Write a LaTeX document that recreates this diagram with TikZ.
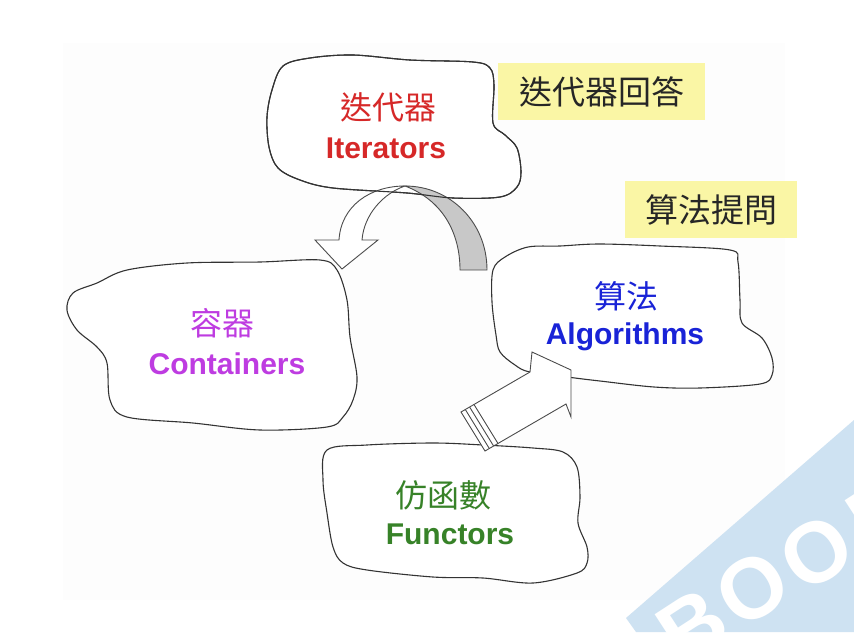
\documentclass[tikz,border=0pt]{standalone}
\usepackage{fontspec}
\setmainfont{Liberation Sans}
\newfontfamily\cjk{Noto Sans CJK TC}
\definecolor{itred}{RGB}{214,40,40}
\definecolor{copurple}{RGB}{190,60,225}
\definecolor{alblue}{RGB}{25,35,215}
\definecolor{fugreen}{RGB}{55,130,40}
\definecolor{qyellow}{RGB}{250,246,165}
\definecolor{wmblue}{RGB}{206,226,242}
\definecolor{arrowgray}{RGB}{200,200,200}
\definecolor{bgpanel}{RGB}{253,253,253}
\begin{document}
\begin{tikzpicture}[x=1pt,y=-1pt,
  cloud/.style={draw=black!80,line width=1.1pt,fill=white,line join=round},
  cloudline/.style={draw=black!80,line width=1.1pt,line join=round},
  blockarrow/.style={draw=black!70,line width=0.9pt,line join=miter},
  cjklab/.style={font=\cjk\fontsize{32}{34}\selectfont,inner sep=0pt},
  enlab/.style={font=\bfseries\fontsize{30}{32}\selectfont,inner sep=0pt,anchor=base},
  qbox/.style={fill=qyellow,inner sep=0pt,font=\cjk\fontsize{33}{35}\selectfont,text=black!85},
  wmletter/.style={font=\bfseries\fontsize{86}{86}\selectfont,text=white,inner sep=0pt,rotate=33}]
\useasboundingbox (0,0) rectangle (854,632);
\clip (0,0) rectangle (854,632);
\fill[white] (0,0) rectangle (854,632);
\fill[bgpanel] (63,43) rectangle (785,600);
% watermark band
\fill[wmblue] (636,632) -- (626,618) -- (854,420) -- (854,632) -- cycle;
\node[wmletter] (wmb) at (692,626) {B};
\node[wmletter] (wmo1) at (752,588) {O};
\node[wmletter] (wmo2) at (816,552) {O};
\node[wmletter] (wmk) at (882,512) {K};

% question / answer boxes
\node[qbox,minimum width=207pt,minimum height=57pt] (ans) at (601.5,91.5) {迭代器回答};
\node[qbox,minimum width=172pt,minimum height=57pt] (ask) at (711,209.5) {算法提問};

% Iterators cloud
\path[cloud] plot[smooth cycle,tension=0.55] coordinates {(283,66) (310,58) (353,55) (410,60) (473,62) (490,68) (494,85) (493,123) (505,135) (517,148) (521,172) (517,187) (500,197) (453,198) (407,193) (333,188) (300,180) (278,168) (269,147) (267,117) (272,90)};

% Containers cloud
\path[cloud] plot[smooth cycle,tension=0.55] coordinates {(97,283) (127,270) (187,263) (260,262) (320,260) (337,270) (347,300) (350,337) (357,377) (353,400) (343,417) (327,427) (260,430) (193,423) (127,417) (110,400) (107,363) (97,347) (77,330) (67,310) (73,293)};

% curved arrows
\coordinate (ctop) at (405,186);
\draw[blockarrow,fill=arrowgray] (ctop) .. controls (450,186) and (487,222) .. (487,270) -- (460,270) .. controls (460,232) and (442,200) .. (ctop) -- cycle;
\draw[blockarrow,fill=white] (ctop) .. controls (370,186) and (341,206) .. (339,240) -- (315,240) -- (342,269) -- (378,240) -- (362,240) .. controls (364,214) and (384,193) .. (ctop) -- cycle;

% Iterators outline again over the arrows
\path[cloudline] plot[smooth cycle,tension=0.55] coordinates {(283,66) (310,58) (353,55) (410,60) (473,62) (490,68) (494,85) (493,123) (505,135) (517,148) (521,172) (517,187) (500,197) (453,198) (407,193) (333,188) (300,180) (278,168) (269,147) (267,117) (272,90)};

% Functors cloud
\path[cloud] plot[smooth cycle,tension=0.55] coordinates {(327,450) (367,445) (433,443) (483,445) (533,448) (563,452) (577,467) (580,497) (578,523) (587,547) (587,563) (577,573) (533,583) (483,578) (433,577) (367,570) (343,563) (333,547) (327,513) (323,480)};

% Algorithms cloud
\path[cloud] plot[smooth cycle,tension=0.55] coordinates {(493,270) (505,257) (528,247) (560,246) (599,244) (660,246) (730,250) (738,262) (740,300) (742,323) (762,338) (772,358) (772,375) (760,384) (700,388) (654,387) (600,381) (575,378) (530,372) (515,365) (500,352) (496,335) (492,302)};

% straight striped arrow (drawn over the clouds)
\draw[blockarrow,fill=white] (461,412) -- (530,372) -- (532,352) -- (571,370) -- (571,417) -- (566,404) -- (485,451) -- cycle;
\draw[blockarrow] (465.3,409.5) -- (489.3,448.5);
\draw[blockarrow] (469.6,407) -- (493.6,446);
\draw[blockarrow] (474,404.5) -- (498,443.5);

% labels
\node[cjklab,text=itred] (itcn) at (388,107) {迭代器};
\node[enlab,text=itred] (iten) at (386,158) {Iterators};
\node[cjklab,text=copurple] (cocn) at (222,323) {容器};
\node[enlab,text=copurple] (coen) at (227,374) {Containers};
\node[cjklab,text=alblue] (alcn) at (626,296) {算法};
\node[enlab,text=alblue] (alen) at (625,344) {Algorithms};
\node[cjklab,text=fugreen] (fucn) at (443,495) {仿函數};
\node[enlab,text=fugreen] (fuen) at (450,544) {Functors};
\end{tikzpicture}
\end{document}
